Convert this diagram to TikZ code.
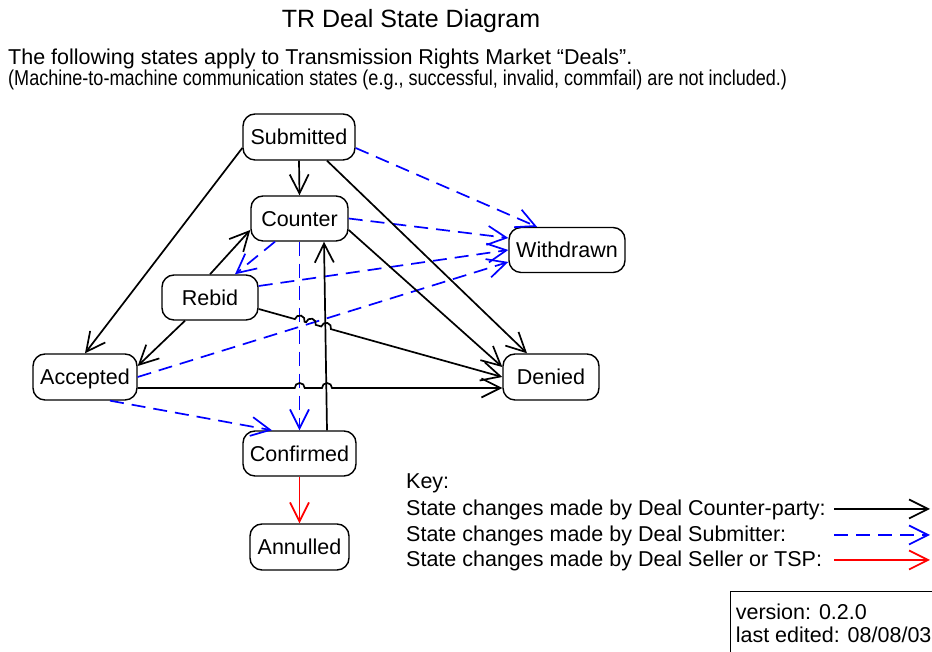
\documentclass[tikz,border=0pt]{standalone}
\usepackage{fontspec}
\setmainfont{Liberation Sans}
\usetikzlibrary{arrows.meta,calc}
\newcommand{\nodefont}{\fontsize{21.5}{24}\selectfont}
\newcommand{\titlefont}{\fontsize{25}{28}\selectfont}
\tikzset{
  state/.style={draw, rounded corners=12pt, line width=1.4pt, inner sep=0pt,
    text height=15.4pt, text depth=0pt, font=\nodefont},
  tiparrow/.style={-{Straight Barb[length=19pt,width=19pt,line width=1.7pt]}},
  cparty/.style={black, line width=1.7pt, tiparrow},
  submit/.style={blue, line width=1.7pt, dash pattern=on 14pt off 8pt, tiparrow},
  seller/.style={red, line width=1.7pt, tiparrow},
  txt/.style={anchor=base west, inner sep=0pt, font=\nodefont}
}
\begin{document}
\begin{tikzpicture}[x=1pt,y=1pt]
\useasboundingbox (0,0) rectangle (932,652);

% header
\node[anchor=base, inner sep=0pt, font=\titlefont] (title) at (411,624) {TR Deal State Diagram};
\node[txt] (intro) at (8,587) {The following states apply to Transmission Rights Market “Deals”.};
\node[txt] (note) at (8,566) {\scalebox{0.84}[1]{(Machine-to-machine communication states (e.g., successful, invalid, commfail) are not included.)}};

% states
\node[state, minimum width=112pt, minimum height=46pt] (sub)  at (299,515)   {Submitted};
\node[state, minimum width=97pt,  minimum height=45pt] (cnt)  at (299.5,433.5) {Counter};
\node[state, minimum width=116pt, minimum height=45pt] (wd)   at (567,402)   {Withdrawn};
\node[state, minimum width=96pt,  minimum height=45pt] (reb)  at (210,354.5) {Rebid};
\node[state, minimum width=96pt,  minimum height=46pt] (den)  at (551,275)   {Denied};
\node[state, minimum width=104pt, minimum height=46pt] (acc)  at (85,275)    {Accepted};
\node[state, minimum width=113pt, minimum height=45pt] (conf) at (299.5,198.5) {Confirmed};
\node[state, minimum width=99pt,  minimum height=46pt] (ann)  at (299.5,105)  {Annulled};

% submitter (blue dashed)
\draw[submit] ([yshift=-11pt]sub.east) -- ([xshift=-30pt]wd.north);
\draw[submit] (cnt.east) -- ([yshift=12pt]wd.west);
\draw[submit] ([yshift=11.5pt]reb.east) -- (wd.west);
\draw[submit] (acc.east) -- ([yshift=-12pt]wd.west);
\draw[submit] ([xshift=-24.5pt]cnt.south) -- ([xshift=25pt]reb.north);
\draw[submit] (cnt.south) -- (conf.north);
\draw[submit] ([xshift=25pt]acc.south) -- ([xshift=-27.5pt]conf.north);

% counter-party (black)
\draw[cparty] (sub.south) -- (cnt.north);
\draw[cparty] ([yshift=-11pt]sub.west) -- (acc.north);
\draw[cparty] ([xshift=28pt]sub.south) -- ([xshift=-24pt]den.north);
\draw[cparty] ([yshift=-11.5pt]cnt.east) -- ([yshift=10pt]den.west);
\draw[cparty] (reb.north) -- ([yshift=-11.5pt]cnt.west);
\draw[cparty] ([xshift=-25pt]reb.south) -- ([yshift=11pt]acc.east);
\draw[cparty] ([xshift=27.5pt]conf.north) -- ([xshift=24.5pt]cnt.south);

\coordinate (r7a) at ([yshift=-11.5pt]reb.east);
\coordinate (r7b) at (den.west);
\draw[cparty] (r7a) -- ($(r7a)!37.6pt!(r7b)$)
  arc[start angle=164.5, end angle=-15.5, radius=5pt]
  -- ($(r7a)!49.2pt!(r7b)$)
  arc[start angle=164.5, end angle=-15.5, radius=5pt]
  -- ($(r7a)!65pt!(r7b)$)
  arc[start angle=164.5, end angle=-15.5, radius=5pt]
  -- (r7b);

\coordinate (a8a) at ([yshift=-11pt]acc.east);
\coordinate (a8b) at ([yshift=-11pt]den.west);
\draw[cparty] (a8a) -- ($(a8a)!157pt!(a8b)$)
  arc[start angle=180, end angle=0, radius=5pt]
  -- ($(a8a)!184.3pt!(a8b)$)
  arc[start angle=180, end angle=0, radius=5pt]
  -- (a8b);

% seller (red)
\draw[seller] (conf.south) -- (ann.north);

% key
\node[txt] (key)  at (406,163) {Key:};
\node[txt] (key1) at (406,136) {State changes made by Deal Counter-party:};
\node[txt] (key2) at (406,110) {State changes made by Deal Submitter:};
\node[txt] (key3) at (406,85)  {State changes made by Deal Seller or TSP:};
\coordinate (k1a) at (834,143); \coordinate (k1b) at (930,143);
\coordinate (k2a) at (834,117); \coordinate (k2b) at (930,117);
\coordinate (k3a) at (834,92);  \coordinate (k3b) at (930,92);
\draw[cparty] (k1a) -- (k1b);
\draw[submit] (k2a) -- (k2b);
\draw[seller] (k3a) -- (k3b);

% version box
\begin{scope}
\clip (0,0) rectangle (932,652);
\draw[line width=1.2pt] (730.5,60.5) rectangle (945,-10);
\end{scope}
\node[txt] (ver)  at (735.6,32.5) {version: 0.2.0};
\node[txt] (edit) at (735.6,9)    {last edited: 08/08/03};
\end{tikzpicture}
\end{document}
